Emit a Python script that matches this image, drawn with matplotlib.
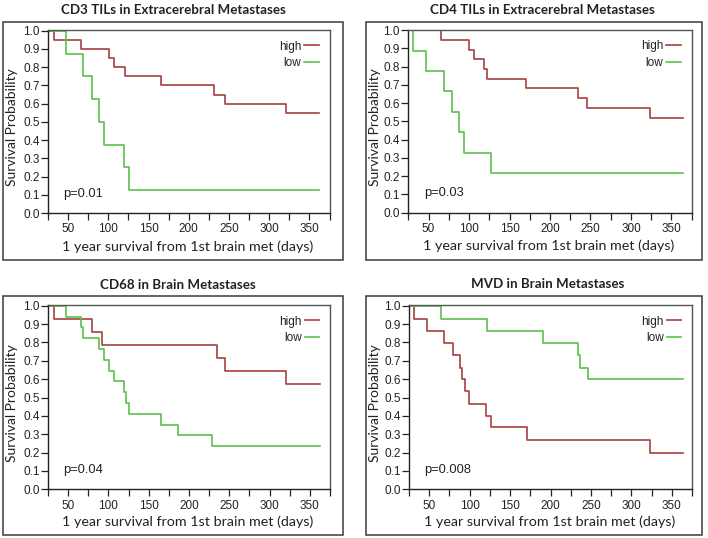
import matplotlib
matplotlib.use("Agg")
import matplotlib.pyplot as plt
from matplotlib.patches import Rectangle
from matplotlib.ticker import MultipleLocator

# ---------------- data ----------------
titles = ["CD3 TILs in Extracerebral Metastases", "CD4 TILs in Extracerebral Metastases",
          "CD68 in Brain Metastases", "MVD in Brain Metastases"]
p_values = ["p=0.01", "p=0.03", "p=0.04", "p=0.008"]
group_labels = ["high", "low"]
x_ticks = [50, 100, 150, 200, 250, 300, 350]
y_ticks = [0.0, 0.1, 0.2, 0.3, 0.4, 0.5, 0.6, 0.7, 0.8, 0.9, 1.0]

cd3_high_t = [26, 32, 66, 101, 107, 121, 166, 232, 245, 321, 362]
cd3_high_s = [1.0, 0.95, 0.90, 0.85, 0.80, 0.75, 0.70, 0.65, 0.60, 0.55, 0.55]
cd3_low_t = [26, 48, 69, 80, 88.5, 94.6, 119, 126, 362]
cd3_low_s = [1.0, 0.875, 0.75, 0.625, 0.5, 0.375, 0.25, 0.125, 0.125]

cd4_high_t = [24, 65, 100, 106.5, 119, 122, 170, 234, 246, 323, 364]
cd4_high_s = [1.0, 0.944, 0.894, 0.841, 0.789, 0.735, 0.683, 0.627, 0.575, 0.52, 0.52]
cd4_low_t = [24, 30.6, 47, 68.7, 79.5, 87.8, 94, 127, 364]
cd4_low_s = [1.0, 0.887, 0.775, 0.664, 0.55, 0.44, 0.328, 0.217, 0.217]

cd68_high_t = [26, 32, 80, 91.5, 235, 245, 321, 362]
cd68_high_s = [1.0, 0.928, 0.857, 0.786, 0.714, 0.643, 0.571, 0.571]
cd68_low_t = [26, 47.6, 65.6, 68.8, 88, 94.3, 100.8, 107, 119.3, 122.2, 126, 165.6, 186, 229, 362]
cd68_low_s = [1.0, 0.941, 0.882, 0.824, 0.765, 0.706, 0.647, 0.588, 0.529, 0.471, 0.412,
              0.353, 0.294, 0.235, 0.235]

mvd_high_t = [24, 30.6, 47, 68, 79.5, 87.8, 90.7, 94.8, 99.8, 119.7, 126, 170.4, 323, 364]
mvd_high_s = [1.0, 0.93, 0.862, 0.797, 0.73, 0.663, 0.6, 0.535, 0.467, 0.402, 0.337, 0.27, 0.198, 0.198]
mvd_low_t = [24, 65, 121.8, 191, 234, 236, 246, 364]
mvd_low_s = [1.0, 0.929, 0.86, 0.796, 0.729, 0.663, 0.6, 0.6]

curves = [
    ((cd3_high_t, cd3_high_s), (cd3_low_t, cd3_low_s)),
    ((cd4_high_t, cd4_high_s), (cd4_low_t, cd4_low_s)),
    ((cd68_high_t, cd68_high_s), (cd68_low_t, cd68_low_s)),
    ((mvd_high_t, mvd_high_s), (mvd_low_t, mvd_low_s)),
]

# ---------------- layout ----------------
W, H = 708, 538
fig = plt.figure(figsize=(W / 100, H / 100), dpi=100)

RED = "#a8403f"
GREEN = "#5cc04c"
FRAME = "#3a3a3a"
INK = "#222222"

# axes boxes in pixels: left, right, top, bottom
ax_px = [(48, 329.5, 30, 213), (408.3, 691.7, 29.5, 212.5),
         (48, 330, 305, 489.3), (409, 692, 305, 489.3)]
# outer panel frames in pixels: left, right, top, bottom
frame_px = [(3, 343, 22, 260), (366, 701.5, 22, 259.5),
            (3, 343, 296, 535), (366, 702, 296, 535)]
title_pos = [(173, 9.5), (542, 9.5), (178, 285), (548, 284.5)]
ylabel_x = [12, 375.5, 12, 375.5]
xlabel_y = [246.5, 245.5, 522, 522]

TICK_FAMILY = "Liberation Sans"
text_font = "Lato"

for i in range(4):
    l, r, t, b = ax_px[i]
    ax = fig.add_axes([l / W, 1 - b / H, (r - l) / W, (b - t) / H])
    (ht, hs), (lt, ls) = curves[i]
    ax.step(ht, hs, where="post", color=RED, lw=1.2, label=group_labels[0])
    ax.step(lt, ls, where="post", color=GREEN, lw=1.2, label=group_labels[1])
    ax.set_xlim(25, 375)
    ax.set_ylim(0, 1.004)
    ax.xaxis.set_minor_locator(MultipleLocator(25))
    ax.set_xticks(x_ticks)
    ax.set_yticks(y_ticks)
    ax.set_yticklabels([f"{v:.1f}" for v in y_ticks], family=TICK_FAMILY)
    ax.set_xticklabels([str(v) for v in x_ticks], family=TICK_FAMILY)
    ax.tick_params(axis="x", which="major", direction="out", length=5, width=0.9,
                   pad=2.5, labelsize=8.5, colors=INK)
    ax.tick_params(axis="x", which="minor", direction="out", length=5, width=0.9, color=INK)
    ax.tick_params(axis="y", which="major", direction="out", length=5, width=0.9,
                   pad=1, labelsize=8.5, colors=INK)
    for side in ["left", "bottom"]:
        ax.spines[side].set_color(INK)
        ax.spines[side].set_linewidth(1.0)
    for side in ["right", "top"]:
        ax.spines[side].set_color("#555555")
        ax.spines[side].set_linewidth(1.0)
    leg = ax.legend(loc="upper right", markerfirst=False, frameon=False,
                    handlelength=1.25, handletextpad=0.25, labelspacing=0.4,
                    borderaxespad=0.5, prop=dict(family=TICK_FAMILY, size=8.5))
    for txt in leg.get_texts():
        txt.set_color(INK)
    ax.text(0.055, 0.105, p_values[i], transform=ax.transAxes, ha="left", va="center",
            family=TICK_FAMILY, size=9.3, color=INK)

    fl, fr, ft, fb = frame_px[i]
    fig.patches.append(Rectangle((fl / W, 1 - fb / H), (fr - fl) / W, (fb - ft) / H,
                                 transform=fig.transFigure, fill=False,
                                 edgecolor=FRAME, lw=1.1))
    tx, ty = title_pos[i]
    fig.text(tx / W, 1 - ty / H, titles[i], ha="center", va="center",
             family=text_font, weight="bold", size=9.6, color=INK)
    fig.text(ylabel_x[i] / W, 1 - ((t + b) / 2 + 6) / H, "Survival Probability",
             rotation=90, ha="center", va="center", family=text_font, size=10,
             color=INK)
    fig.text(((l + r) / 2 - 1) / W, 1 - xlabel_y[i] / H,
             "1 year survival from 1st brain met (days)", ha="center", va="center",
             family=text_font, size=10.3, color=INK)

fig.savefig("out.png", dpi=100, facecolor="white")
